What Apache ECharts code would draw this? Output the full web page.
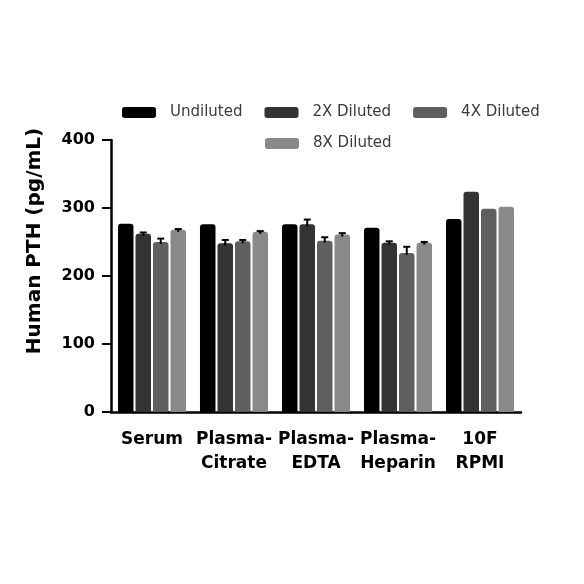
<!DOCTYPE html>
<html>
<head>
<meta charset="utf-8">
<script src="https://cdn.jsdelivr.net/npm/echarts@6/dist/echarts.min.js"></script>
<style>html,body{margin:0;padding:0;background:#fff;}#c{width:584px;height:584px;}</style>
</head>
<body>
<div id="c"></div>
<script>
var categories = ['Serum', 'Plasma-\nCitrate', 'Plasma-\nEDTA', 'Plasma-\nHeparin', '10F\nRPMI'];
var seriesNames = ['Undiluted', '2X Diluted', '4X Diluted', '8X Diluted'];
var undiluted = [277, 276, 276, 271, 284];
var diluted2X = [262, 248, 276, 249, 324];
var diluted4X = [250, 251, 252, 234, 299];
var diluted8X = [268, 265, 261, 249, 302];
var err_undiluted = [0, 0, 0, 0, 0];
var err_2X = [2, 5, 7, 2, 0];
var err_4X = [5, 2, 5, 9, 0];
var err_8X = [1, 1, 2, 1, 0];
var yTicks = [0, 100, 200, 300, 400];

var values = [undiluted, diluted2X, diluted4X, diluted8X];
var errors = [err_undiluted, err_2X, err_4X, err_8X];
var colors = ['#000000', '#333333', '#5f5f5f', '#898989'];
var BAR_W = 15.5, BAR_STEP = 17.5;

var chart = echarts.init(document.getElementById('c'), null, {renderer: 'canvas'});
var series = [];
values.forEach(function (vals, i) {
  series.push({
    name: seriesNames[i], type: 'bar', data: vals,
    barWidth: BAR_W, barGap: '13%',
    itemStyle: {color: colors[i], borderRadius: [3, 3, 0, 0]},
    z: 2
  });
});
values.forEach(function (vals, i) {
  var d = vals.map(function (v, k) { return [k, v, errors[i][k]]; });
  series.push({
    type: 'custom', data: d, z: 5, silent: true,
    renderItem: function (params, api) {
      var e = api.value(2);
      if (!e) return null;
      var top = api.coord([api.value(0), api.value(1) + e]);
      var base = api.coord([api.value(0), api.value(1)]);
      var x = top[0] + (i - 1.5) * BAR_STEP;
      return {type: 'group', children: [
        {type: 'line', shape: {x1: x, y1: base[1] + 2, x2: x, y2: top[1]}, style: {stroke: '#000', lineWidth: 2}},
        {type: 'line', shape: {x1: x - 3.5, y1: top[1], x2: x + 3.5, y2: top[1]}, style: {stroke: '#000', lineWidth: 2}}
      ]};
    }
  });
});

var legendText = {fontFamily: 'DejaVu Sans', fontSize: 15, color: '#3a3a3a', padding: [0, 0, 0, 9]};
chart.setOption({
  animation: false,
  backgroundColor: '#fff',
  legend: [{
    data: seriesNames.slice(0, 3), left: 122, top: 105, padding: 0,
    itemWidth: 34, itemHeight: 11, itemGap: 22, icon: 'roundRect',
    textStyle: legendText
  }, {
    data: seriesNames.slice(3), left: 265, top: 136, padding: 0,
    itemWidth: 34, itemHeight: 11, icon: 'roundRect',
    textStyle: legendText
  }],
  grid: {left: 111, right: 63, top: 140, bottom: 172, containLabel: false},
  xAxis: {
    type: 'category', data: categories,
    axisLine: {lineStyle: {color: '#000', width: 2.5}},
    axisTick: {alignWithLabel: true, length: 6, lineStyle: {color: '#000', width: 2}},
    axisLabel: {fontFamily: 'DejaVu Sans', fontWeight: 'bold', fontSize: 17, color: '#000', margin: 16, lineHeight: 24, interval: 0}
  },
  yAxis: {
    type: 'value', min: yTicks[0], max: yTicks[yTicks.length - 1], interval: 100,
    name: 'Human PTH (pg/mL)', nameLocation: 'middle', nameGap: 66, nameRotate: 90,
    nameTextStyle: {fontFamily: 'DejaVu Sans', fontWeight: 'bold', fontSize: 20, color: '#000', padding: [0, 0, 0, 70]},
    axisLine: {show: true, lineStyle: {color: '#000', width: 2.5}},
    axisTick: {show: true, length: 9, lineStyle: {color: '#000', width: 2}},
    splitLine: {show: false},
    axisLabel: {fontFamily: 'DejaVu Sans', fontWeight: 'bold', fontSize: 16, color: '#000', margin: 16}
  },
  series: series
});
</script>
</body>
</html>
